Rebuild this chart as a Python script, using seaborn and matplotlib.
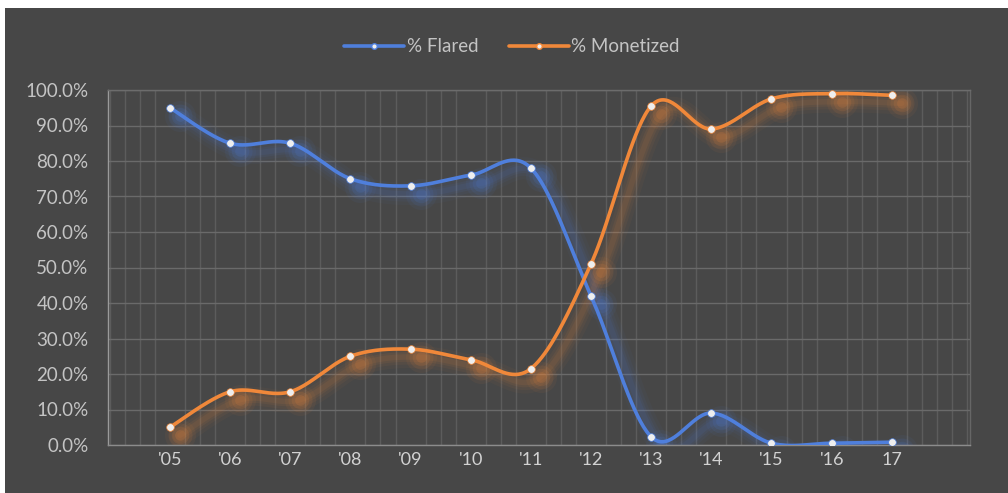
import numpy as np
import matplotlib
matplotlib.use("Agg")
import matplotlib.pyplot as plt
import matplotlib.transforms as mtransforms
from matplotlib.patches import Rectangle
from matplotlib.lines import Line2D
from matplotlib.ticker import FixedLocator, MultipleLocator
import seaborn as sns

# ---- data -------------------------------------------------------------
years = ["'05", "'06", "'07", "'08", "'09", "'10", "'11", "'12",
         "'13", "'14", "'15", "'16", "17"]
flared = [95.0, 85.0, 85.0, 75.0, 73.0, 76.0, 78.0, 42.0, 2.3, 9.0, 0.5, 0.5, 0.8]
monetized = [5.0, 15.0, 15.0, 25.0, 27.0, 24.0, 21.5, 51.0, 95.5, 89.0, 97.5, 99.0, 98.5]
y_ticks = [0, 10, 20, 30, 40, 50, 60, 70, 80, 90, 100]

BG = "#474747"
BLUE = "#4f7fdc"
ORANGE = "#f0883a"
TEXT = "#c4c4c4"

sns.set_theme(style="dark")
plt.rcParams["font.family"] = ["Lato", "DejaVu Sans"]


def smooth_path(values, n=40):
    """Bezier smoothing through each point (tangent = neighbour chord / 6)."""
    x = np.arange(len(values), dtype=float)
    pts = np.column_stack([x, np.asarray(values, float)])
    ext = np.vstack([pts[0], pts, pts[-1]])
    t = np.linspace(0, 1, n)[:, None]
    parts = []
    for i in range(len(pts) - 1):
        p0, p1, p2, p3 = ext[i], ext[i + 1], ext[i + 2], ext[i + 3]
        c1 = p1 + (p2 - p0) / 6.0
        c2 = p2 - (p3 - p1) / 6.0
        seg = ((1 - t) ** 3) * p1 + 3 * ((1 - t) ** 2) * t * c1 \
            + 3 * (1 - t) * t ** 2 * c2 + t ** 3 * p2
        parts.append(seg if i == 0 else seg[1:])
    return np.vstack(parts)


fig = plt.figure(figsize=(10.08, 4.93), dpi=100)
fig.patch.set_facecolor("white")
fig.patches.append(Rectangle((5 / 1008, 0), 1, (493 - 8) / 493,
                             transform=fig.transFigure, facecolor=BG,
                             edgecolor="none", zorder=-10))

ax = fig.add_axes([108 / 1008, 1 - 445 / 493, (970 - 108) / 1008, (445 - 90) / 493])
ax.set_facecolor(BG)

idx = np.arange(len(years))
shadow_tr = ax.transData + mtransforms.ScaledTranslation(10 / 100, -8 / 100,
                                                         fig.dpi_scale_trans)

for values, color in [(flared, BLUE), (monetized, ORANGE)]:
    curve = smooth_path(values)
    # soft offset shadow under each series
    for lw, a in [(16, 0.04), (11, 0.05), (7, 0.07), (4, 0.08)]:
        ax.plot(curve[:, 0], curve[:, 1], color=color, lw=lw, alpha=a,
                transform=shadow_tr, solid_capstyle="round", zorder=2)
    for s, a in [(500, 0.06), (300, 0.09), (160, 0.12), (60, 0.14)]:
        ax.scatter(idx, values, marker="o", s=s, color=color, alpha=a,
                   linewidths=0, transform=shadow_tr, zorder=2)
    sns.lineplot(x=curve[:, 0], y=curve[:, 1], ax=ax, color=color, lw=2.6,
                 sort=False, estimator=None, zorder=4)
    sns.scatterplot(x=idx, y=values, ax=ax, color="#eeeeee", s=30,
                    edgecolor=color, linewidth=0.5, zorder=5)

# ---- axes -------------------------------------------------------------
ax.set_xlim(-1.03, 13.3)
ax.set_ylim(0, 100)
ax.yaxis.set_major_locator(FixedLocator(y_ticks))
ax.set_yticklabels([f"{v:.1f}%" for v in y_ticks], color=TEXT, fontsize=13.5)
ax.xaxis.set_major_locator(FixedLocator(idx))
ax.set_xticklabels(years, color="#d2d2d2", fontsize=13)
ax.xaxis.set_minor_locator(MultipleLocator(0.25))
ax.tick_params(axis="both", which="both", length=0)
ax.tick_params(axis="y", pad=14)
ax.tick_params(axis="x", pad=5)
ax.set_xlabel("")
ax.set_ylabel("")

ax.grid(False)
ax.grid(axis="y", which="major", color="#6a6a6a", lw=1.0)
ax.grid(axis="x", which="minor", color="#5c5c5c", lw=1.0)
ax.set_axisbelow(True)

for side, sp in ax.spines.items():
    sp.set_visible(True)
    sp.set_linewidth(1.0)
ax.spines["left"].set_color("#9a9a9a")
ax.spines["bottom"].set_color("#8c8c8c")
ax.spines["top"].set_color("#6c6c6c")
ax.spines["right"].set_color("#666666")

# ---- legend -----------------------------------------------------------
handles = [
    Line2D([], [], color=BLUE, lw=2.6, marker="o", markersize=4,
           markerfacecolor="#eeeeee", markeredgecolor=BLUE),
    Line2D([], [], color=ORANGE, lw=2.6, marker="o", markersize=4,
           markerfacecolor="#eeeeee", markeredgecolor=ORANGE),
]
fig.legend(handles, ["% Flared", "% Monetized"], loc="center",
           bbox_to_anchor=(0.508, 0.905), ncol=2, frameon=False,
           handlelength=3.2, handletextpad=0.15, columnspacing=1.6,
           fontsize=13.5, labelcolor=TEXT)

fig.savefig("out.png", dpi=100, facecolor=fig.get_facecolor())
